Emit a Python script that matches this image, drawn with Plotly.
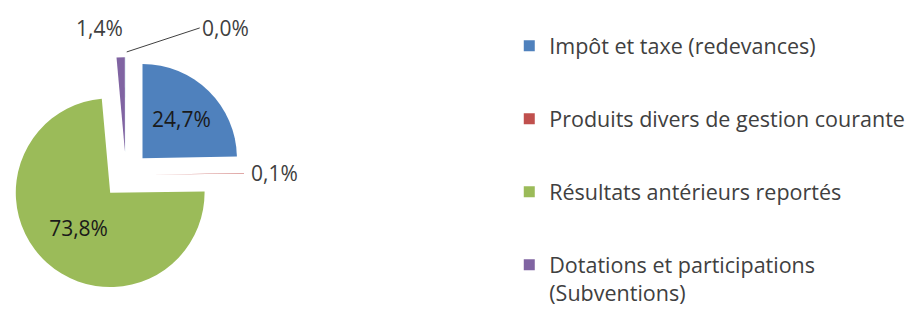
import plotly.graph_objects as go

categories = ["Impôt et taxe (redevances)", "Produits divers de gestion courante",
              "Résultats antérieurs reportés", "Dotations et participations (Subventions)", "Autres"]
legend_names = ["Impôt et taxe (redevances)", "Produits divers de gestion courante",
                "Résultats antérieurs reportés", "Dotations et participations<br>(Subventions)"]
values = [24.7, 0.1, 73.8, 1.4, 0.02]
colors = ["#4F81BD", "#C0504D", "#9BBB59", "#8064A2", "#4BACC6"]
textpos = ["inside", "outside", "inside", "none", "none"]

total = sum(values)
def pct(v):
    return f"{v / total * 100:.1f}%".replace(".", ",")

fig = go.Figure()
fig.add_trace(go.Pie(
    labels=categories, values=values, sort=False, direction="clockwise", rotation=0,
    marker=dict(colors=colors, line=dict(width=0)),
    pull=[0.25] * len(values),
    texttemplate="%{percent:.1%}", textposition=textpos,
    insidetextorientation="horizontal",
    insidetextfont=dict(color="#1a1a1a", size=21),
    outsidetextfont=dict(color="#404040", size=21),
    showlegend=False,
    domain=dict(x=[0.0, 0.2554], y=[0.088, 0.854]),
    hoverinfo="label+percent",
))
for i, (n, c) in enumerate(zip(legend_names, colors)):
    fig.add_trace(go.Scatter(
        x=[None], y=[None], mode="markers", name=n,
        marker=dict(symbol="square", size=11, color=c),
        legendgroup=str(i), showlegend=True,
    ))

# labels for the two tiny slices at the top of the pie
fig.add_annotation(
    x=0.0985, y=0.937, xref="paper", yref="paper", text=pct(values[3]),
    xanchor="center", yanchor="middle",
    showarrow=False, font=dict(size=21, color="#404040"),
)
fig.add_annotation(
    x=0.1285, y=0.861, xref="paper", yref="paper", text=pct(values[4]),
    showarrow=True, arrowhead=0, arrowwidth=1, arrowcolor="#404040",
    ax=73, ay=-24, xanchor="left", yanchor="middle",
    font=dict(size=21, color="#404040"),
)

fig.update_layout(
    width=924, height=316,
    margin=dict(l=0, r=0, t=0, b=0, autoexpand=False),
    paper_bgcolor="white", plot_bgcolor="white",
    separators=", ",
    font=dict(family="Open Sans", size=21.5, color="#404040"),
    xaxis=dict(visible=False), yaxis=dict(visible=False),
    legend=dict(x=0.5425, y=0.945, xanchor="left", yanchor="top",
                tracegroupgap=42, valign="top",
                font=dict(size=21.5, color="#404040")),
)
fig.write_html("out.html")
